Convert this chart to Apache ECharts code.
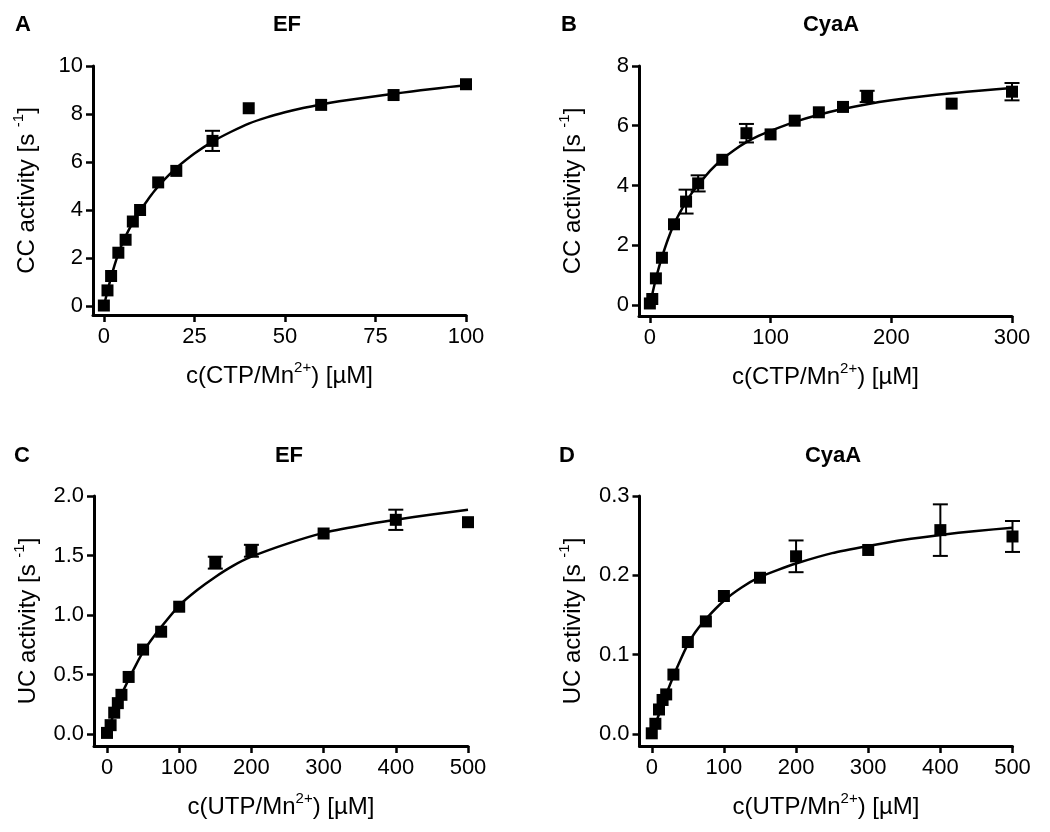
<!DOCTYPE html>
<html>
<head>
<meta charset="utf-8">
<script src="https://cdn.jsdelivr.net/npm/echarts@6/dist/echarts.min.js"></script>
<style>
html,body{margin:0;padding:0;background:#fff;}
#chart{width:1050px;height:832px;}
</style>
</head>
<body>
<div id="chart"></div>
<script>
// ---------- Panel A: EF, CTP ----------
var xA = [0, 1, 2, 4, 6, 8, 10, 15, 20, 30, 40, 60, 80, 100];
var yA = [0.02, 0.65, 1.25, 2.22, 2.76, 3.52, 4.0, 5.15, 5.63, 6.88, 8.24, 8.38, 8.79, 9.24];
var errA = [0, 0, 0, 0, 0, 0, 0, 0, 0, 0.42, 0, 0, 0, 0];
var fitXA = [0, 1, 2, 3, 4, 5, 6, 7, 8, 9, 10, 12, 14, 16, 18, 20, 25, 30, 35, 40, 45, 50, 55, 60, 65, 70, 75, 80, 85, 90, 95, 100];
var fitYA = [0, 0.62, 1.2, 1.72, 2.18, 2.57, 2.9, 3.2, 3.47, 3.73, 3.97, 4.4, 4.8, 5.15, 5.46, 5.75, 6.35, 6.85, 7.25, 7.6, 7.86, 8.07, 8.25, 8.4, 8.53, 8.64, 8.74, 8.84, 8.94, 9.03, 9.12, 9.2];
var xTicksA = [0, 25, 50, 75, 100];
var yTicksA = [0, 2, 4, 6, 8, 10];

// ---------- Panel B: CyaA, CTP ----------
var xB = [0, 2, 5, 10, 20, 30, 40, 60, 80, 100, 120, 140, 160, 180, 250, 300];
var yB = [0.05, 0.2, 0.89, 1.58, 2.7, 3.46, 4.07, 4.86, 5.75, 5.71, 6.17, 6.45, 6.63, 6.98, 6.74, 7.14];
var errB = [0, 0, 0, 0, 0, 0.4, 0.27, 0, 0.31, 0, 0, 0, 0, 0.19, 0, 0.29];
var fitXB = [0, 2.5, 5, 7.5, 10, 15, 20, 25, 30, 35, 40, 50, 60, 70, 80, 90, 100, 120, 140, 160, 180, 200, 225, 250, 275, 300];
var fitYB = [0, 0.45, 0.88, 1.26, 1.6, 2.2, 2.7, 3.1, 3.45, 3.76, 4.02, 4.5, 4.88, 5.19, 5.45, 5.66, 5.83, 6.13, 6.37, 6.56, 6.72, 6.85, 6.98, 7.09, 7.18, 7.26];
var xTicksB = [0, 100, 200, 300];
var yTicksB = [0, 2, 4, 6, 8];

// ---------- Panel C: EF, UTP ----------
var xC = [0, 5, 10, 15, 20, 30, 50, 75, 100, 150, 200, 300, 400, 500];
var yC = [0.01, 0.075, 0.18, 0.26, 0.33, 0.48, 0.71, 0.86, 1.07, 1.44, 1.54, 1.685, 1.8, 1.78];
var errC = [0, 0, 0, 0, 0, 0, 0, 0, 0, 0.05, 0.05, 0, 0.085, 0];
var fitXC = [0, 10, 20, 30, 40, 50, 60, 75, 100, 125, 150, 175, 200, 250, 300, 350, 400, 450, 500];
var fitYC = [0, 0.18, 0.33, 0.46, 0.58, 0.69, 0.78, 0.9, 1.08, 1.21, 1.32, 1.415, 1.49, 1.6, 1.69, 1.75, 1.8, 1.845, 1.885];
var xTicksC = [0, 100, 200, 300, 400, 500];
var yTicksC = [0, 0.5, 1.0, 1.5, 2.0];

// ---------- Panel D: CyaA, UTP ----------
var xD = [0, 5, 10, 15, 20, 30, 50, 75, 100, 150, 200, 300, 400, 500];
var yD = [0.001, 0.013, 0.031, 0.043, 0.05, 0.075, 0.116, 0.142, 0.174, 0.197, 0.224, 0.232, 0.257, 0.249];
var errD = [0, 0, 0, 0, 0, 0, 0, 0, 0, 0, 0.02, 0, 0.0325, 0.0195];
var fitXD = [0, 10, 20, 30, 40, 50, 60, 75, 100, 125, 150, 175, 200, 250, 300, 350, 400, 450, 500];
var fitYD = [0, 0.025, 0.05, 0.073, 0.094, 0.113, 0.128, 0.145, 0.168, 0.185, 0.198, 0.207, 0.215, 0.228, 0.237, 0.245, 0.251, 0.256, 0.26];
var xTicksD = [0, 100, 200, 300, 400, 500];
var yTicksD = [0, 0.1, 0.2, 0.3];

var panelLetters = ['A', 'B', 'C', 'D'];
var panelTitles = ['EF', 'CyaA', 'EF', 'CyaA'];
var yNames = ['CC activity', 'CC activity', 'UC activity', 'UC activity'];
var xNames = ['CTP', 'CTP', 'UTP', 'UTP'];

// ---------- layout (pixels) ----------
var FONT = 'Liberation Sans, Arial, Helvetica, sans-serif';
var grids = [
  {left: 93, top: 66, width: 373, height: 249},
  {left: 639, top: 66, width: 373, height: 250},
  {left: 94, top: 496, width: 374, height: 250},
  {left: 639.5, top: 496, width: 373, height: 250}
];
var xRanges = [[-3, 100], [-9, 300], [-18, 500], [-17, 500]];
var yRanges = [[-0.375, 10], [-0.37, 8], [-0.1, 2.0], [-0.015, 0.3]];
var xTickSets = [xTicksA, xTicksB, xTicksC, xTicksD];
var yTickSets = [yTicksA, yTicksB, yTicksC, yTicksD];
var yDecimals = [0, 0, 1, 1];
var titlePos = [[23, 25, 287, 25], [569, 25, 831, 25], [22, 456, 289, 456], [567, 456, 833, 456]];

var pts = [[xA, yA, errA], [xB, yB, errB], [xC, yC, errC], [xD, yD, errD]];
var fits = [[fitXA, fitYA], [fitXB, fitYB], [fitXC, fitYC], [fitXD, fitYD]];

function zip(a, b) { return a.map(function (v, i) { return [v, b[i]]; }); }

var axisLineStyle = {color: '#000', width: 3};
var rich = {
  n: {fontSize: 24, fontFamily: FONT, color: '#000', lineHeight: 28, verticalAlign: 'bottom'},
  s: {fontSize: 15, fontFamily: FONT, color: '#000', lineHeight: 28, verticalAlign: 'top'}
};

var xAxes = [], yAxes = [], series = [], graphics = [];
for (var i = 0; i < 4; i++) {
  (function (i) {
    xAxes.push({
      type: 'value', gridIndex: i, min: xRanges[i][0], max: xRanges[i][1],
      axisLine: {show: true, onZero: false, lineStyle: axisLineStyle},
      axisTick: {show: true, length: 7, inside: false, customValues: xTickSets[i], lineStyle: {color: '#000', width: 2.5}},
      axisLabel: {show: true, customValues: xTickSets[i], margin: 11, fontSize: 22, fontFamily: FONT, color: '#000'},
      splitLine: {show: false},
      name: '{n|c(' + xNames[i] + '/Mn}{s|2+}{n|) [µM]}',
      nameLocation: 'middle', nameGap: 45,
      nameTextStyle: {rich: rich, fontSize: 24, fontFamily: FONT, color: '#000'}
    });
    var dec = yDecimals[i];
    yAxes.push({
      type: 'value', gridIndex: i, min: yRanges[i][0], max: yRanges[i][1],
      axisLine: {show: true, onZero: false, lineStyle: axisLineStyle},
      axisTick: {show: true, length: 7, inside: false, customValues: yTickSets[i], lineStyle: {color: '#000', width: 2.5}},
      axisLabel: {show: true, customValues: yTickSets[i], margin: 10, fontSize: 22, fontFamily: FONT, color: '#000',
        formatter: function (v) { return Number(v).toFixed(dec); }},
      splitLine: {show: false},
      name: '{n|' + yNames[i] + ' [s }{s|-1}{n|]}',
      nameLocation: 'middle', nameGap: 54,
      nameTextStyle: {rich: rich, fontSize: 24, fontFamily: FONT, color: '#000'}
    });
    series.push({
      type: 'line', xAxisIndex: i, yAxisIndex: i,
      data: zip(fits[i][0], fits[i][1]),
      symbol: 'none', smooth: 0.2,
      lineStyle: {color: '#000', width: 2.5}, z: 2, silent: true
    });
    var p = pts[i];
    var errData = [];
    for (var k = 0; k < p[0].length; k++) {
      if (p[2][k] > 0) errData.push([p[0][k], p[1][k], p[2][k]]);
    }
    series.push({
      type: 'custom', xAxisIndex: i, yAxisIndex: i, data: errData, z: 3, silent: true,
      renderItem: function (params, api) {
        var x = api.value(0), y = api.value(1), e = api.value(2);
        var hi = api.coord([x, y + e]);
        var lo = api.coord([x, y - e]);
        var w = 7.5;
        var st = {stroke: '#000', lineWidth: 2};
        return {
          type: 'group',
          children: [
            {type: 'line', shape: {x1: hi[0], y1: hi[1], x2: lo[0], y2: lo[1]}, style: st},
            {type: 'line', shape: {x1: hi[0] - w, y1: hi[1], x2: hi[0] + w, y2: hi[1]}, style: st},
            {type: 'line', shape: {x1: lo[0] - w, y1: lo[1], x2: lo[0] + w, y2: lo[1]}, style: st}
          ]
        };
      }
    });
    series.push({
      type: 'scatter', xAxisIndex: i, yAxisIndex: i,
      data: zip(p[0], p[1]),
      symbol: 'rect', symbolSize: 12,
      itemStyle: {color: '#000', opacity: 1}, z: 4, silent: true
    });
    var tp = titlePos[i];
    graphics.push({type: 'text', x: tp[0], y: tp[1], style: {text: panelLetters[i], font: 'bold 22px ' + FONT, fill: '#000', align: 'center', verticalAlign: 'middle'}});
    graphics.push({type: 'text', x: tp[2], y: tp[3], style: {text: panelTitles[i], font: 'bold 22px ' + FONT, fill: '#000', align: 'center', verticalAlign: 'middle'}});
  })(i);
}

var gridOpts = grids.map(function (g) {
  return {left: g.left, top: g.top, width: g.width, height: g.height, containLabel: false, outerBoundsMode: 'none'};
});

var chart = echarts.init(document.getElementById('chart'), null, {renderer: 'canvas'});
chart.setOption({
  backgroundColor: '#fff',
  animation: false,
  grid: gridOpts,
  xAxis: xAxes,
  yAxis: yAxes,
  series: series,
  graphic: graphics,
  tooltip: {show: false}
});
</script>
</body>
</html>
